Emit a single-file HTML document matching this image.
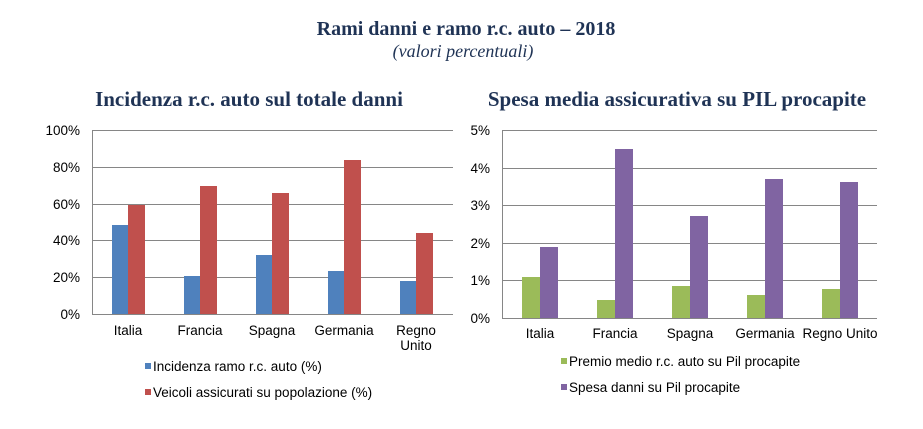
<!DOCTYPE html>
<html><head><meta charset="utf-8"><style>
body{margin:0;background:#fff;width:923px;height:424px;overflow:hidden}
svg text{font-family:"Liberation Sans",sans-serif;font-size:13.5px;fill:#000}
.t{font-family:"Liberation Serif",serif;fill:#1f3355}
</style></head><body>
<svg width="923" height="424" xmlns="http://www.w3.org/2000/svg">
<text class="t" x="466" y="35" text-anchor="middle" style="font-size:20px;font-weight:bold">Rami danni e ramo r.c. auto – 2018</text>
<text class="t" x="463" y="57" text-anchor="middle" style="font-size:18px;font-style:italic">(valori percentuali)</text>
<text class="t" x="249" y="106" text-anchor="middle" style="font-size:21px;font-weight:bold">Incidenza r.c. auto sul totale danni</text>
<text class="t" x="677" y="106" text-anchor="middle" style="font-size:21px;font-weight:bold">Spesa media assicurativa su PIL procapite</text>
<g stroke="#868686" stroke-width="1">
<line x1="92" y1="130.5" x2="453" y2="130.5"/><line x1="92" y1="167.5" x2="453" y2="167.5"/><line x1="92" y1="204.5" x2="453" y2="204.5"/><line x1="92" y1="240.5" x2="453" y2="240.5"/><line x1="92" y1="277.5" x2="453" y2="277.5"/><line x1="92" y1="314.5" x2="453" y2="314.5"/><line x1="92.5" y1="130" x2="92.5" y2="314"/>
<line x1="502" y1="130.5" x2="877" y2="130.5"/><line x1="502" y1="168.5" x2="877" y2="168.5"/><line x1="502" y1="205.5" x2="877" y2="205.5"/><line x1="502" y1="243.5" x2="877" y2="243.5"/><line x1="502" y1="280.5" x2="877" y2="280.5"/><line x1="502" y1="318.5" x2="877" y2="318.5"/><line x1="502.5" y1="130" x2="502.5" y2="318"/>
</g>
<g text-anchor="end">
<text x="80" y="135">100%</text><text x="80" y="172">80%</text><text x="80" y="209">60%</text><text x="80" y="245">40%</text><text x="80" y="282">20%</text><text x="80" y="319">0%</text>
<text x="490" y="135">5%</text><text x="490" y="173">4%</text><text x="490" y="210">3%</text><text x="490" y="248">2%</text><text x="490" y="285">1%</text><text x="490" y="323">0%</text>
</g>
<g fill="#4f81bd">
<rect x="112" y="225" width="16" height="89"/><rect x="184" y="276" width="16" height="38"/><rect x="256" y="255" width="16" height="59"/><rect x="328" y="271" width="16" height="43"/><rect x="400" y="281" width="16" height="33"/>
</g>
<g fill="#c0504d">
<rect x="128" y="205" width="17" height="109"/><rect x="200" y="186" width="17" height="128"/><rect x="272" y="193" width="17" height="121"/><rect x="344" y="160" width="17" height="154"/><rect x="416" y="233" width="17" height="81"/>
</g>
<g fill="#9bbb59">
<rect x="522" y="277" width="18" height="41"/><rect x="597" y="300" width="18" height="18"/><rect x="672" y="286" width="18" height="32"/><rect x="747" y="295" width="18" height="23"/><rect x="822" y="289" width="18" height="29"/>
</g>
<g fill="#8064a2">
<rect x="540" y="247" width="18" height="71"/><rect x="615" y="149" width="18" height="169"/><rect x="690" y="216" width="18" height="102"/><rect x="765" y="179" width="18" height="139"/><rect x="840" y="182" width="18" height="136"/>
</g>
<g text-anchor="middle">
<text x="128" y="335">Italia</text><text x="200" y="335">Francia</text><text x="272" y="335">Spagna</text><text x="344" y="335">Germania</text><text x="416" y="335">Regno</text><text x="416" y="350">Unito</text>
<text x="540" y="338">Italia</text><text x="615" y="338">Francia</text><text x="690" y="338">Spagna</text><text x="765" y="338">Germania</text><text x="840" y="338">Regno Unito</text>
</g>
<rect x="145" y="363" width="6" height="6" fill="#4f81bd"/><text x="153" y="371">Incidenza ramo r.c. auto (%)</text>
<rect x="145" y="389" width="6" height="6" fill="#c0504d"/><text x="153" y="397">Veicoli assicurati su popolazione (%)</text>
<rect x="561" y="358" width="6" height="6" fill="#9bbb59"/><text x="569" y="366">Premio medio r.c. auto su Pil procapite</text>
<rect x="561" y="384" width="6" height="6" fill="#8064a2"/><text x="569" y="392">Spesa danni su Pil procapite</text>
</svg>
</body></html>
